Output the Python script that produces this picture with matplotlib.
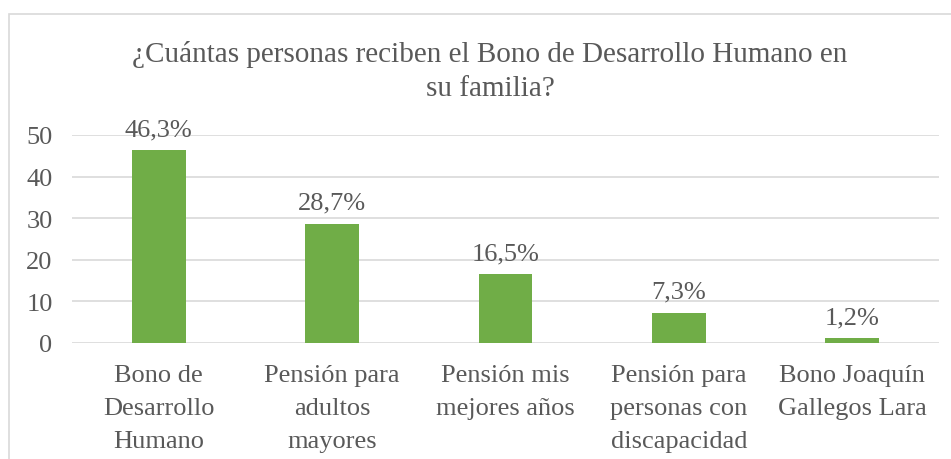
import matplotlib.pyplot as plt
from matplotlib.patches import Rectangle

# data
categorias = ["Bono de\nDesarrollo\nHumano", "Pensión para\nadultos\nmayores",
              "Pensión mis\nmejores años", "Pensión para\npersonas con\ndiscapacidad",
              "Bono Joaquín\nGallegos Lara"]
valores = [46.3, 28.7, 16.5, 7.3, 1.2]
etiquetas = ["46,3%", "28,7%", "16,5%", "7,3%", "1,2%"]
yticks = [0, 10, 20, 30, 40, 50]

plt.rcParams['font.family'] = ['Liberation Serif', 'DejaVu Serif']
gris = "#595959"

fig = plt.figure(figsize=(9.51, 4.6), dpi=100)
ax = fig.add_axes([72/951, 1-344/460, (939-72)/951, (344-136)/460])

# chart border
fig.patches.append(Rectangle((9/951, -0.1), 1.0, 1.1-15/460, transform=fig.transFigure,
                             fill=False, edgecolor="#D9D9D9", linewidth=1.2))

x = range(len(valores))
ax.bar(x, valores, width=0.31, color="#70AD47", zorder=3)
for i, v in enumerate(valores):
    ax.text(i, v + 2.4, etiquetas[i], ha="center", va="bottom", fontsize=19, color=gris)

ax.set_xlim(-0.5, len(valores) - 0.5)
ax.set_ylim(0, 50)
ax.set_yticks(yticks)
ax.set_yticklabels([str(t) for t in yticks], fontsize=19, color=gris)
ax.set_xticks(list(x))
ax.set_xticklabels(categorias, fontsize=19, color=gris, linespacing=1.65)
ax.tick_params(length=0, pad=15)
ax.tick_params(axis='y', pad=14)
ax.grid(axis='y', color="#D9D9D9", linewidth=1.2, zorder=0)
for s in ax.spines.values():
    s.set_visible(False)

fig.text(490/951, 1-72/460, "¿Cuántas personas reciben el Bono de Desarrollo Humano en\nsu familia?",
         ha="center", va="center", fontsize=21, color=gris, linespacing=1.4)

fig.savefig("out.png", dpi=100)
